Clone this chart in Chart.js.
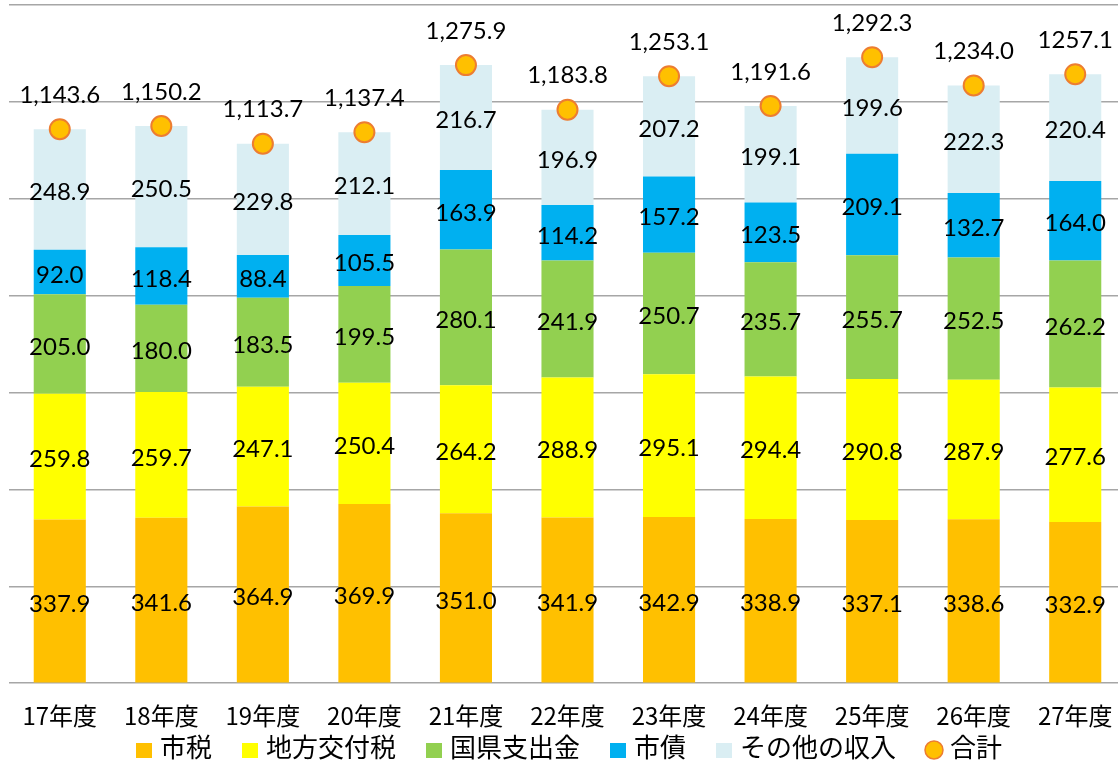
<!DOCTYPE html>
<html>
<head>
<meta charset="utf-8">
<script src="https://cdn.jsdelivr.net/npm/chart.js@4"></script>
<style>
  html, body { margin:0; padding:0; background:#fff; overflow:hidden; }
</style>
</head>
<body>
<canvas id="c" width="1126" height="765"></canvas>
<script>
// data
const years = ['17年度','18年度','19年度','20年度','21年度','22年度','23年度','24年度','25年度','26年度','27年度'];
const shizei   = [337.9, 341.6, 364.9, 369.9, 351.0, 341.9, 342.9, 338.9, 337.1, 338.6, 332.9];
const koufu    = [259.8, 259.7, 247.1, 250.4, 264.2, 288.9, 295.1, 294.4, 290.8, 287.9, 277.6];
const kokken   = [205.0, 180.0, 183.5, 199.5, 280.1, 241.9, 250.7, 235.7, 255.7, 252.5, 262.2];
const shisai   = [92.0, 118.4, 88.4, 105.5, 163.9, 114.2, 157.2, 123.5, 209.1, 132.7, 164.0];
const sonota   = [248.9, 250.5, 229.8, 212.1, 216.7, 196.9, 207.2, 199.1, 199.6, 222.3, 220.4];
const goukei   = [1143.6, 1150.2, 1113.7, 1137.4, 1275.9, 1183.8, 1253.1, 1191.6, 1292.3, 1234.0, 1257.1];
const goukeiLabels = ['1,143.6','1,150.2','1,113.7','1,137.4','1,275.9','1,183.8','1,253.1','1,191.6','1,292.3','1,234.0','1257.1'];

const numFont = '24px Lato, "Noto Sans", sans-serif';
const jpFont = '"Noto Sans CJK JP", "Noto Sans", sans-serif';

function barSet(label, data, color){
  return {
    type:'bar', label, data, backgroundColor:color, borderWidth:0, order:1,
    categoryPercentage:1.0, barPercentage:0.513
  };
}

// labels inside bars and above total points
const valueLabels = {
  id:'valueLabels',
  afterDatasetsDraw(chart){
    const c = chart.ctx;
    c.save();
    c.font = numFont;
    c.fillStyle = '#000';
    c.textAlign = 'center';
    c.textBaseline = 'middle';
    chart.data.datasets.forEach((ds, di) => {
      const meta = chart.getDatasetMeta(di);
      meta.data.forEach((el, i) => {
        if (ds.type === 'bar') {
          c.fillText(ds.data[i].toFixed(1), el.x, (el.y + el.base) / 2 + 3);
        } else {
          c.fillText(goukeiLabels[i], el.x, el.y - 34);
        }
      });
    });
    c.restore();
  }
};

// legend drawn by hand so the spacing matches (built-in one pads too much vertically)
const bottomLegend = {
  id:'bottomLegend',
  afterDraw(chart){
    const c = chart.ctx;
    const dsets = chart.data.datasets;
    const boxW = 16, gapIn = 8, gapOut = 30, y = 747;
    c.save();
    c.font = '26px ' + jpFont;
    c.textBaseline = 'middle';
    let total = 0;
    dsets.forEach((ds, i) => {
      total += boxW + gapIn + c.measureText(ds.label).width + (i < dsets.length - 1 ? gapOut : 0);
    });
    let x = 569 - total / 2;
    dsets.forEach(ds => {
      if (ds.type === 'line') {
        c.beginPath();
        c.arc(x + boxW / 2, y + 3, 9, 0, Math.PI * 2);
        c.fillStyle = ds.backgroundColor;
        c.fill();
        c.lineWidth = 1.5;
        c.strokeStyle = ds.borderColor;
        c.stroke();
      } else {
        c.fillStyle = ds.backgroundColor;
        c.fillRect(x, y - 4, boxW, 15);
      }
      x += boxW + gapIn;
      c.fillStyle = '#000';
      c.fillText(ds.label, x, y);
      x += c.measureText(ds.label).width + gapOut;
    });
    c.restore();
  }
};

new Chart(document.getElementById('c'), {
  data: {
    labels: years,
    datasets: [
      barSet('市税', shizei, '#FFC000'),
      barSet('地方交付税', koufu, '#FFFF00'),
      barSet('国県支出金', kokken, '#92D050'),
      barSet('市債', shisai, '#00B0F0'),
      barSet('その他の収入', sonota, '#DAEEF3'),
      {
        type:'line', label:'合計', data:goukei, showLine:false,
        pointRadius:10, pointHoverRadius:10, pointStyle:'circle',
        backgroundColor:'#FFC000', borderColor:'#ED7D31', borderWidth:2,
        order:0, clip:false
      }
    ]
  },
  options: {
    responsive:false,
    animation:false,
    layout:{ autoPadding:false, padding:{ top:5, left:9, right:0, bottom:25 } },
    scales: {
      x: {
        stacked:true,
        grid:{ display:false },
        border:{ display:false },
        ticks:{ color:'#000', font:{ family:jpFont, size:24 }, padding:10 }
      },
      y: {
        stacked:true,
        min:0, max:1400,
        ticks:{ stepSize:200, display:false },
        grid:{ color:'#A6A6A6', lineWidth:1.5, drawTicks:false },
        border:{ display:false }
      }
    },
    plugins: {
      legend:{ display:false },
      tooltip:{ enabled:false }
    }
  },
  plugins:[valueLabels, bottomLegend]
});
</script>
</body>
</html>
